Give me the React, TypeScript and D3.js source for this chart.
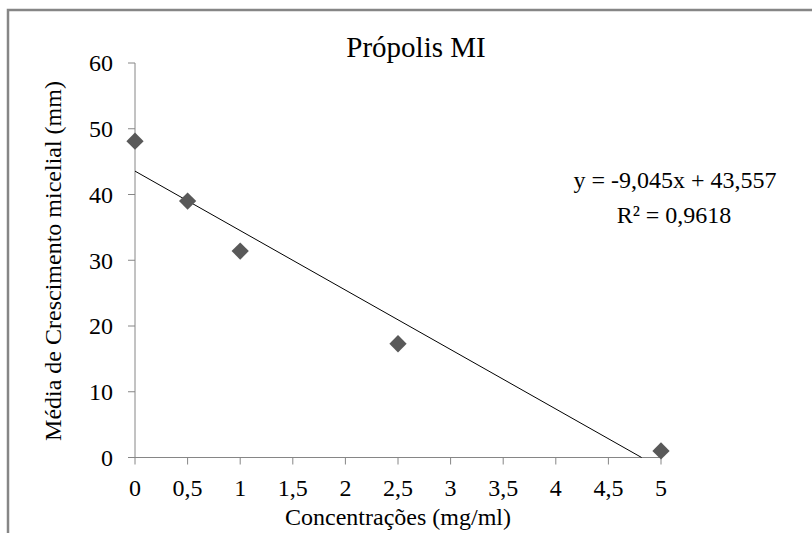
import React from 'react';
import * as d3 from 'd3';

// Própolis MI: mycelial growth vs concentration, with the linear trendline.

const W = 812;
const H = 533;

const concentrations = [0, 0.5, 1, 2.5, 5];
const growth = [48.1, 39.0, 31.4, 17.3, 1.0];

const xTicks = [0, 0.5, 1, 1.5, 2, 2.5, 3, 3.5, 4, 4.5, 5];
const yTicks = [0, 10, 20, 30, 40, 50, 60];

const slope = -9.045;
const intercept = 43.557;

const FONT = "'Liberation Serif', 'Times New Roman', 'DejaVu Serif', serif";
const AXIS_COLOR = '#868686';
const MARK_COLOR = '#595959';

const fmt = (v: number) => String(v).replace('.', ',');

export default function App() {
  const x = d3.scaleLinear().domain([0, 5]).range([135, 661]);
  const y = d3.scaleLinear().domain([0, 60]).range([457.5, 63]);

  const xEnd = -intercept / slope;
  const trend = d3.line<number>()
    .x((d) => x(d))
    .y((d) => y(slope * d + intercept))([0, xEnd]);

  const diamond = d3.symbol().type(d3.symbolDiamond2).size(190)();

  return (
    <svg
      width={W}
      height={H}
      style={{ position: 'fixed', left: 0, top: 0, background: '#fff', fontFamily: FONT }}
    >
      <rect x={0} y={0} width={W} height={H} fill="#fff" />
      <rect x={8} y={10} width={1000} height={800} fill="none" stroke={AXIS_COLOR} strokeWidth={2.5} />

      <text x={416} y={57} textAnchor="middle" fontSize={29} fill="#000">Própolis MI</text>

      {/* y axis */}
      <line x1={x(0)} x2={x(0)} y1={y(0)} y2={y(60)} stroke={AXIS_COLOR} strokeWidth={1} />
      {yTicks.map((t) => (
        <g key={`y${t}`}>
          <line x1={128} x2={x(0)} y1={y(t)} y2={y(t)} stroke={AXIS_COLOR} strokeWidth={1} />
          <text x={113} y={y(t)} dy="0.35em" textAnchor="end" fontSize={24} fill="#000">{t}</text>
        </g>
      ))}

      {/* x axis */}
      <line x1={x(0)} x2={x(5)} y1={y(0)} y2={y(0)} stroke={AXIS_COLOR} strokeWidth={1} />
      {xTicks.map((t) => (
        <g key={`x${t}`}>
          <line x1={x(t)} x2={x(t)} y1={y(0)} y2={y(0) + 7} stroke={AXIS_COLOR} strokeWidth={1} />
          <text x={x(t)} y={496} textAnchor="middle" fontSize={24} fill="#000">{fmt(t)}</text>
        </g>
      ))}

      {/* trendline */}
      <path d={trend ?? ''} fill="none" stroke="#000" strokeWidth={1} />

      {/* points */}
      {concentrations.map((c, i) => (
        <path key={c} d={diamond ?? ''} transform={`translate(${x(c)},${y(growth[i])})`} fill={MARK_COLOR} />
      ))}

      <text x={675} y={188} textAnchor="middle" fontSize={24} fill="#000">y = -9,045x + 43,557</text>
      <text x={674} y={223} textAnchor="middle" fontSize={24} fill="#000">R² = 0,9618</text>

      <text x={398} y={525} textAnchor="middle" fontSize={24} fill="#000">Concentrações (mg/ml)</text>
      <text transform="translate(61,261) rotate(-90)" textAnchor="middle" fontSize={24} fill="#000">
        Média de Crescimento micelial (mm)
      </text>
    </svg>
  );
}
